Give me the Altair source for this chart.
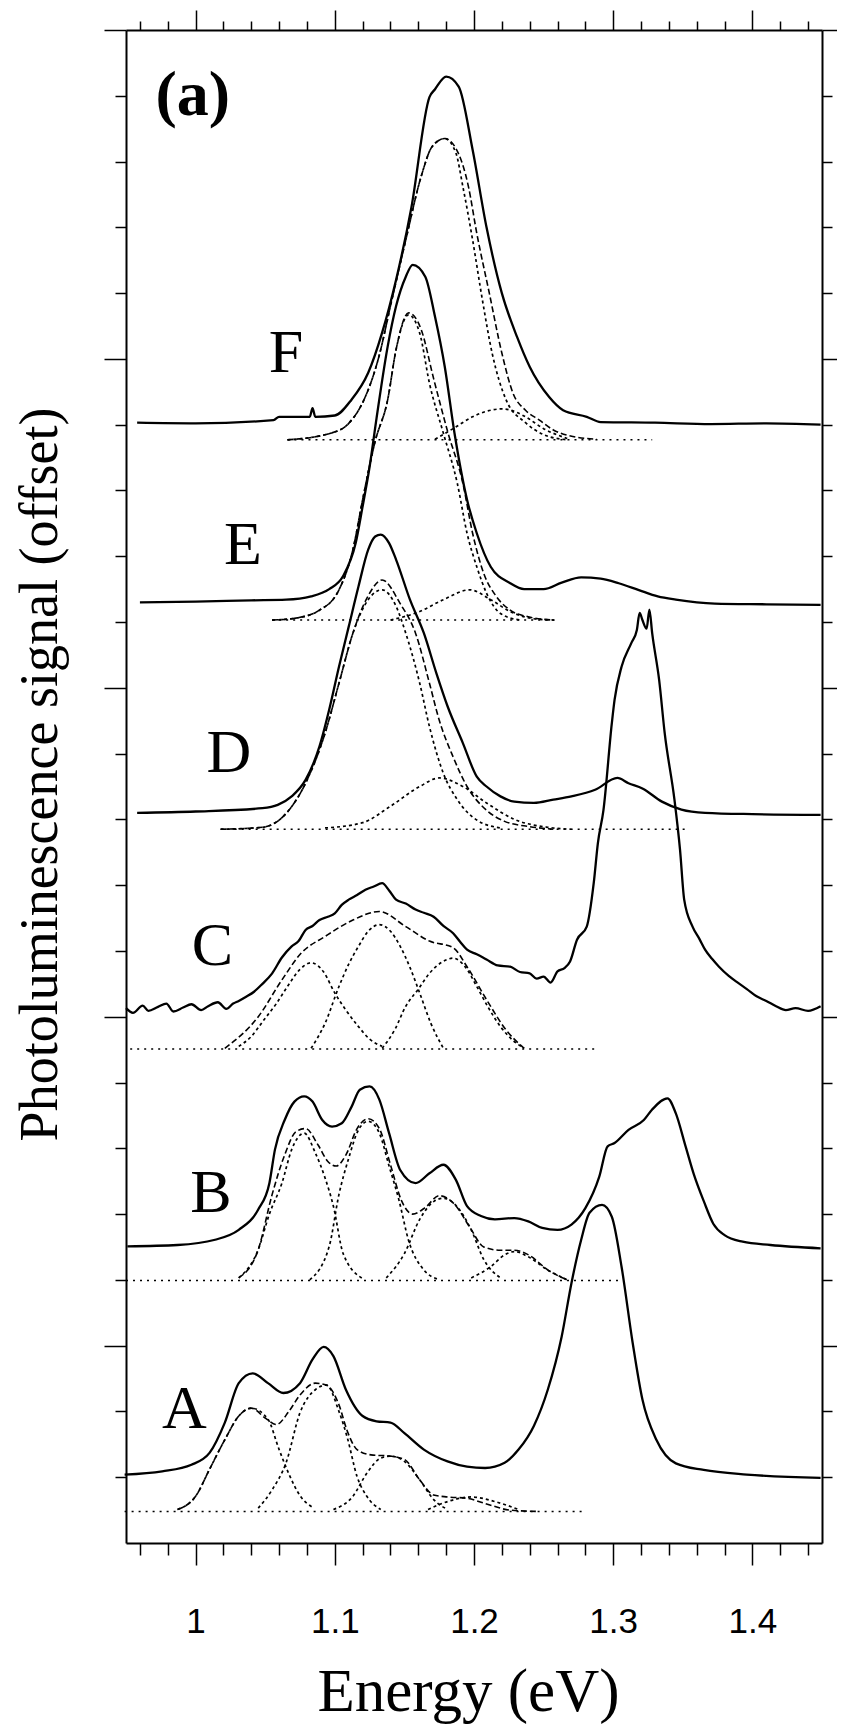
import altair as alt
import pandas as pd

# ---------------- tick values ----------------
x_ticks = [0.96, 0.98, 1.00, 1.02, 1.04, 1.06, 1.08, 1.10, 1.12, 1.14, 1.16, 1.18, 1.20,
           1.22, 1.24, 1.26, 1.28, 1.30, 1.32, 1.34, 1.36, 1.38, 1.40, 1.42, 1.44]
y_ticks = [-2, -1, 0, 1, 2, 3, 4, 5, 6, 7, 8, 9, 10, 11, 12, 13, 14, 15, 16, 17, 18, 19, 20]

# ---------------- spectrum F ----------------
F_E = [0.958, 1.000, 1.056, 1.060, 1.082, 1.084, 1.086, 1.100, 1.112, 1.124, 1.134, 1.144, 1.155,
       1.168, 1.172, 1.180, 1.189, 1.199, 1.209, 1.220, 1.231, 1.240, 1.254, 1.264, 1.281, 1.291,
       1.330, 1.370, 1.410, 1.449]
F_v = [14.03, 14.02, 14.07, 14.12, 14.12, 14.25, 14.12, 14.14, 14.38, 14.79, 15.40, 16.20, 17.30,
       18.98, 19.10, 19.29, 19.14, 18.18, 17.00, 16.00, 15.33, 14.88, 14.42, 14.22, 14.12, 14.04,
       14.03, 14.01, 14.02, 14.00]
Fc1_E = [1.066, 1.097, 1.110, 1.121, 1.131, 1.141, 1.151, 1.162, 1.170, 1.179, 1.187, 1.192, 1.199,
         1.206, 1.213, 1.223, 1.237, 1.250, 1.267]
Fc1_v = [13.77, 13.87, 14.02, 14.38, 14.98, 15.90, 16.81, 17.77, 18.23, 18.35, 18.13, 17.62, 16.81,
         15.90, 15.09, 14.38, 14.03, 13.85, 13.77]
Fc2_E = [1.172, 1.185, 1.199, 1.210, 1.220, 1.228, 1.237, 1.250, 1.267]
Fc2_v = [13.78, 13.94, 14.12, 14.21, 14.24, 14.21, 14.12, 13.94, 13.79]
Fs_E = [1.066, 1.097, 1.110, 1.121, 1.131, 1.141, 1.151, 1.162, 1.170, 1.179, 1.187, 1.196, 1.202,
        1.211, 1.220, 1.228, 1.237, 1.247, 1.257, 1.271, 1.288]
Fs_v = [13.77, 13.87, 14.02, 14.38, 14.98, 15.90, 16.81, 17.77, 18.23, 18.35, 18.20, 17.62, 16.91,
        16.00, 15.09, 14.48, 14.22, 14.07, 13.92, 13.82, 13.78]
Fb_E = [1.066, 1.328]
Fb_v = [13.77, 13.77]

# ---------------- spectrum E ----------------
E_E = [0.960, 1.000, 1.040, 1.065, 1.083, 1.096, 1.106, 1.115, 1.120, 1.125, 1.130, 1.138, 1.144,
       1.151, 1.156, 1.165, 1.172, 1.179, 1.186, 1.195, 1.202, 1.212, 1.226, 1.236, 1.250, 1.263,
       1.277, 1.291, 1.304, 1.318, 1.332, 1.345, 1.373, 1.410, 1.449]
E_v = [11.30, 11.31, 11.33, 11.34, 11.39, 11.50, 11.70, 12.20, 12.76, 13.36, 14.10, 15.19, 15.80,
       16.25, 16.43, 16.25, 15.64, 14.88, 13.87, 12.86, 12.35, 11.84, 11.59, 11.50, 11.50, 11.60,
       11.68, 11.66, 11.59, 11.49, 11.39, 11.34, 11.28, 11.27, 11.26]
Ec1_E = [1.055, 1.072, 1.089, 1.103, 1.113, 1.120, 1.129, 1.138, 1.144, 1.153, 1.161, 1.168, 1.178,
         1.188, 1.195, 1.202, 1.209, 1.219, 1.233]
Ec1_v = [11.03, 11.06, 11.18, 11.49, 12.10, 12.86, 13.75, 14.38, 15.14, 15.67, 15.39, 14.63, 13.87,
         13.11, 12.35, 11.84, 11.44, 11.13, 11.03]
Ec2_E = [1.140, 1.161, 1.178, 1.197, 1.212, 1.226, 1.243, 1.258]
Ec2_v = [11.03, 11.16, 11.34, 11.49, 11.34, 11.16, 11.05, 11.03]
Es_E = [1.055, 1.072, 1.089, 1.103, 1.113, 1.120, 1.129, 1.138, 1.144, 1.153, 1.162, 1.171, 1.181,
        1.192, 1.199, 1.207, 1.216, 1.226, 1.239, 1.257]
Es_v = [11.03, 11.06, 11.18, 11.49, 12.10, 12.86, 13.75, 14.38, 15.14, 15.70, 15.45, 14.70, 13.90,
        13.11, 12.35, 11.74, 11.39, 11.18, 11.08, 11.03]
Eb_E = [1.055, 1.258]
Eb_v = [11.03, 11.03]

# ---------------- spectrum D ----------------
D_E = [0.958, 1.000, 1.048, 1.059, 1.069, 1.079, 1.089, 1.096, 1.103, 1.110, 1.117, 1.124, 1.129,
       1.133, 1.139, 1.144, 1.154, 1.164, 1.173, 1.181, 1.192, 1.202, 1.209, 1.219, 1.229, 1.243,
       1.257, 1.270, 1.287, 1.303, 1.311, 1.321, 1.335, 1.349, 1.366, 1.400, 1.449]
D_v = [8.10, 8.12, 8.17, 8.22, 8.35, 8.60, 9.11, 9.67, 10.32, 10.93, 11.54, 12.10, 12.30, 12.33,
       12.20, 11.95, 11.34, 10.83, 10.22, 9.72, 9.16, 8.65, 8.50, 8.35, 8.27, 8.25, 8.30, 8.35,
       8.45, 8.63, 8.55, 8.47, 8.27, 8.15, 8.10, 8.08, 8.07]
Dc1_E = [1.018, 1.048, 1.065, 1.079, 1.093, 1.103, 1.113, 1.124, 1.134, 1.144, 1.151, 1.161, 1.168,
         1.178, 1.188, 1.202, 1.219]
Dc1_v = [7.85, 7.88, 8.09, 8.55, 9.31, 10.07, 10.83, 11.34, 11.49, 11.24, 10.83, 10.07, 9.41,
         8.70, 8.30, 7.99, 7.87]
Dc2_E = [1.093, 1.120, 1.140, 1.161, 1.175, 1.192, 1.209, 1.229, 1.253, 1.270]
Dc2_v = [7.87, 7.95, 8.20, 8.50, 8.63, 8.50, 8.25, 8.00, 7.88, 7.85]
Ds_E = [1.018, 1.048, 1.065, 1.079, 1.093, 1.103, 1.113, 1.124, 1.134, 1.147, 1.158, 1.168, 1.175,
        1.185, 1.195, 1.209, 1.222, 1.240, 1.257]
Ds_v = [7.85, 7.88, 8.09, 8.55, 9.31, 10.07, 10.83, 11.40, 11.64, 11.28, 10.83, 10.07, 9.51,
        8.95, 8.50, 8.14, 7.97, 7.89, 7.85]
Db_E = [1.018, 1.352]
Db_v = [7.85, 7.85]

# ---------------- spectrum C ----------------
C_E = [0.950, 0.955, 0.962, 0.966, 0.973, 0.979, 0.984, 0.991, 0.997, 1.004, 1.009, 1.016, 1.022,
       1.027, 1.031, 1.036, 1.042, 1.048, 1.055, 1.062, 1.069, 1.074, 1.079, 1.084, 1.089, 1.095,
       1.100, 1.105, 1.110, 1.116, 1.122, 1.128, 1.134, 1.139, 1.144, 1.151, 1.158, 1.164, 1.171,
       1.178, 1.185, 1.190, 1.195, 1.202, 1.209, 1.217, 1.226, 1.233, 1.240, 1.245, 1.250, 1.255,
       1.260, 1.265, 1.269, 1.274, 1.281, 1.286, 1.289, 1.293, 1.299, 1.301, 1.306, 1.313, 1.317,
       1.319, 1.321, 1.324, 1.326, 1.328, 1.333, 1.337, 1.344, 1.348, 1.351, 1.357, 1.362, 1.366,
       1.371, 1.376, 1.383, 1.390, 1.396, 1.403, 1.410, 1.417, 1.424, 1.431, 1.440, 1.449]
C_v = [5.13, 5.06, 5.17, 5.09, 5.15, 5.20, 5.08, 5.14, 5.19, 5.10, 5.16, 5.22, 5.12, 5.20, 5.24,
       5.30, 5.38, 5.50, 5.66, 5.90, 6.07, 6.15, 6.32, 6.38, 6.47, 6.52, 6.57, 6.70, 6.78, 6.85,
       6.93, 6.98, 7.03, 6.92, 6.78, 6.72, 6.63, 6.58, 6.52, 6.38, 6.27, 6.14, 6.02, 5.95, 5.87,
       5.78, 5.76, 5.68, 5.66, 5.58, 5.61, 5.52, 5.69, 5.74, 5.84, 6.17, 6.37, 7.03, 7.64, 8.14,
       9.46, 9.82, 10.32, 10.68, 10.88, 11.14, 11.03, 10.90, 11.19, 10.83, 10.12, 9.31, 8.30, 7.54,
       6.78, 6.37, 6.18, 6.02, 5.88, 5.76, 5.62, 5.51, 5.42, 5.31, 5.24, 5.16, 5.10, 5.13, 5.09,
       5.16]
Cc1_E = [1.031, 1.040, 1.049, 1.058, 1.066, 1.075, 1.083, 1.092, 1.100, 1.108, 1.117, 1.125, 1.134]
Cc1_v = [4.55, 4.70, 4.95, 5.20, 5.46, 5.72, 5.82, 5.68, 5.36, 5.10, 4.85, 4.66, 4.55]
Cc2_E = [1.083, 1.093, 1.103, 1.110, 1.117, 1.124, 1.132, 1.140, 1.147, 1.154, 1.161, 1.169, 1.178]
Cc2_v = [4.52, 4.90, 5.46, 5.80, 6.07, 6.30, 6.40, 6.30, 6.07, 5.75, 5.36, 4.90, 4.52]
Cc3_E = [1.134, 1.143, 1.151, 1.160, 1.168, 1.177, 1.185, 1.194, 1.202, 1.210, 1.219, 1.228, 1.236]
Cc3_v = [4.52, 4.80, 5.16, 5.42, 5.66, 5.83, 5.89, 5.75, 5.46, 5.15, 4.85, 4.64, 4.52]
Cs_E = [1.021, 1.045, 1.062, 1.076, 1.093, 1.113, 1.132, 1.151, 1.168, 1.185, 1.195, 1.209, 1.223, 1.236]
Cs_v = [4.52, 5.00, 5.56, 5.97, 6.22, 6.47, 6.60, 6.37, 6.15, 6.05, 5.76, 5.26, 4.80, 4.52]
Cb_E = [0.953, 1.287]
Cb_v = [4.51, 4.51]

# ---------------- spectrum B ----------------
B_E = [0.951, 0.987, 1.014, 1.031, 1.045, 1.053, 1.057, 1.064, 1.071, 1.078, 1.084, 1.091, 1.098,
       1.105, 1.112, 1.118, 1.125, 1.132, 1.139, 1.147, 1.158, 1.168, 1.178, 1.187, 1.195, 1.205,
       1.215, 1.229, 1.239, 1.249, 1.260, 1.270, 1.280, 1.290, 1.296, 1.301, 1.311, 1.322, 1.328,
       1.339, 1.345, 1.352, 1.358, 1.365, 1.372, 1.380, 1.393, 1.413, 1.449]
B_v = [1.51, 1.53, 1.61, 1.76, 2.07, 2.47, 2.98, 3.43, 3.71, 3.79, 3.71, 3.43, 3.33, 3.38, 3.63,
       3.89, 3.94, 3.74, 3.23, 2.67, 2.47, 2.62, 2.75, 2.52, 2.12, 1.97, 1.92, 1.94, 1.89, 1.79,
       1.76, 1.84, 2.09, 2.57, 3.03, 3.08, 3.28, 3.43, 3.59, 3.76, 3.53, 3.03, 2.60, 2.20, 1.85,
       1.68, 1.58, 1.53, 1.48]
Bc1_E = [1.031, 1.045, 1.053, 1.062, 1.069, 1.078, 1.086, 1.093, 1.099, 1.106, 1.120]
Bc1_v = [1.03, 1.46, 2.00, 2.47, 2.98, 3.23, 2.93, 2.55, 2.12, 1.40, 1.02]
Bc2_E = [1.082, 1.096, 1.103, 1.110, 1.117, 1.124, 1.132, 1.139, 1.146, 1.153, 1.164, 1.174]
Bc2_v = [1.00, 1.51, 2.30, 2.85, 3.28, 3.41, 3.23, 2.73, 2.22, 1.60, 1.15, 1.01]
Bc3_E = [1.137, 1.150, 1.161, 1.171, 1.178, 1.188, 1.198, 1.207, 1.219]
Bc3_v = [1.03, 1.40, 1.92, 2.19, 2.24, 2.11, 1.76, 1.31, 1.03]
Bc4_E = [1.198, 1.212, 1.222, 1.229, 1.239, 1.253, 1.267]
Bc4_v = [1.03, 1.20, 1.38, 1.43, 1.35, 1.15, 1.00]
Bs_E = [1.031, 1.045, 1.055, 1.064, 1.072, 1.079, 1.088, 1.095, 1.101, 1.108, 1.116, 1.124, 1.132,
        1.140, 1.148, 1.156, 1.165, 1.175, 1.186, 1.197, 1.207, 1.219, 1.229, 1.240, 1.253, 1.267]
Bs_v = [1.03, 1.46, 2.30, 2.90, 3.25, 3.30, 3.05, 2.80, 2.73, 2.90, 3.30, 3.45, 3.30, 2.75, 2.20,
        2.00, 2.10, 2.28, 2.15, 1.80, 1.50, 1.45, 1.45, 1.37, 1.15, 1.00]
Bb_E = [0.950, 1.307]
Bb_v = [0.99, 0.99]

# ---------------- spectrum A ----------------
A_E = [0.949, 0.976, 0.997, 1.010, 1.021, 1.031, 1.041, 1.052, 1.063, 1.075, 1.084, 1.092, 1.099,
       1.108, 1.120, 1.130, 1.140, 1.150, 1.164, 1.181, 1.195, 1.208, 1.222, 1.232, 1.243, 1.253,
       1.263, 1.270, 1.277, 1.283, 1.292, 1.299, 1.306, 1.314, 1.321, 1.331, 1.345, 1.365, 1.396,
       1.449]
A_v = [-1.96, -1.91, -1.81, -1.63, -1.17, -0.57, -0.42, -0.57, -0.72, -0.57, -0.21, -0.02, -0.16,
       -0.67, -1.07, -1.15, -1.17, -1.33, -1.58, -1.76, -1.84, -1.86, -1.78, -1.58, -1.22, -0.67,
       0.14, 0.95, 1.61, 2.02, 2.14, 1.96, 1.20, 0.04, -0.82, -1.43, -1.79, -1.89, -1.96, -2.01]
Ac1_E = [0.987, 1.000, 1.010, 1.021, 1.031, 1.040, 1.052, 1.060, 1.067, 1.075, 1.085]
Ac1_v = [-2.49, -2.29, -1.88, -1.43, -1.07, -0.95, -1.12, -1.58, -1.95, -2.28, -2.47]
Ac2_E = [1.045, 1.055, 1.065, 1.075, 1.086, 1.094, 1.103, 1.109, 1.116, 1.123, 1.133]
Ac2_v = [-2.47, -2.19, -1.78, -1.02, -0.67, -0.60, -1.00, -1.40, -1.99, -2.29, -2.49]
Ac3_E = [1.099, 1.113, 1.123, 1.133, 1.140, 1.150, 1.161, 1.171, 1.181]
Ac3_v = [-2.49, -2.29, -1.94, -1.71, -1.68, -1.76, -2.04, -2.34, -2.49]
Ac4_E = [1.167, 1.181, 1.198, 1.215, 1.232]
Ac4_v = [-2.49, -2.37, -2.30, -2.37, -2.49]
As_E = [0.987, 1.000, 1.010, 1.021, 1.031, 1.040, 1.050, 1.058, 1.067, 1.075, 1.086, 1.094, 1.103,
        1.109, 1.116, 1.126, 1.140, 1.150, 1.161, 1.171, 1.181, 1.195, 1.208, 1.226, 1.245]
As_v = [-2.49, -2.29, -1.88, -1.43, -1.07, -0.95, -1.10, -1.20, -1.00, -0.75, -0.57, -0.60, -0.90,
        -1.30, -1.58, -1.66, -1.68, -1.73, -2.04, -2.27, -2.30, -2.32, -2.40, -2.50, -2.52]
Ab_E = [0.949, 1.278]
Ab_v = [-2.52, -2.52]

# ---------------- labels ----------------
label_text = ["F", "E", "D", "C", "B", "A"]
label_E = [1.065, 1.034, 1.024, 1.012, 1.011, 0.992]
label_v = [15.09, 12.17, 9.01, 6.07, 2.32, -0.97]
tag_text = ["(a)"]
tag_E = [0.998]
tag_v = [19.0]

curves = {
    "solid": [("F", F_E, F_v), ("E", E_E, E_v), ("D", D_E, D_v), ("C", C_E, C_v),
              ("B", B_E, B_v), ("A", A_E, A_v)],
    "comp": [("Fc1", Fc1_E, Fc1_v), ("Fc2", Fc2_E, Fc2_v), ("Ec1", Ec1_E, Ec1_v),
             ("Ec2", Ec2_E, Ec2_v), ("Dc1", Dc1_E, Dc1_v), ("Dc2", Dc2_E, Dc2_v),
             ("Cc1", Cc1_E, Cc1_v), ("Cc2", Cc2_E, Cc2_v), ("Cc3", Cc3_E, Cc3_v),
             ("Bc1", Bc1_E, Bc1_v), ("Bc2", Bc2_E, Bc2_v), ("Bc3", Bc3_E, Bc3_v),
             ("Bc4", Bc4_E, Bc4_v), ("Ac1", Ac1_E, Ac1_v), ("Ac2", Ac2_E, Ac2_v),
             ("Ac3", Ac3_E, Ac3_v), ("Ac4", Ac4_E, Ac4_v)],
    "sum": [("Fs", Fs_E, Fs_v), ("Es", Es_E, Es_v), ("Ds", Ds_E, Ds_v), ("Cs", Cs_E, Cs_v),
            ("Bs", Bs_E, Bs_v), ("As", As_E, As_v)],
    "base": [("Fb", Fb_E, Fb_v), ("Eb", Eb_E, Eb_v), ("Db", Db_E, Db_v), ("Cb", Cb_E, Cb_v),
             ("Bb", Bb_E, Bb_v), ("Ab", Ab_E, Ab_v)],
}


def frame(kind):
    rows = []
    for name, xs, ys in curves[kind]:
        for i, (x, y) in enumerate(zip(xs, ys)):
            rows.append({"curve": name, "E": x, "S": y, "i": i})
    return pd.DataFrame(rows)


xscale = alt.Scale(domain=[0.95, 1.45], nice=False, zero=False)
yscale = alt.Scale(domain=[-3, 20], nice=False, zero=False)

XMAJ = "abs(datum.value*10 - round(datum.value*10)) < 0.001"
YMAJ = "datum.value % 5 == 0"

common_axis = dict(grid=False, domainColor="black", domainWidth=2, tickColor="black",
                   tickWidth=1.5)

x_bottom = alt.Axis(orient="bottom", values=x_ticks,
                    tickSize={"condition": {"test": XMAJ, "value": 22}, "value": 12},
                    labelExpr=XMAJ + " ? format(datum.value, '.2~g') : ''",
                    labelFont="Liberation Sans", labelFontSize=35, labelColor="black",
                    labelBaseline="alphabetic", labelPadding=67, labelOverlap=False,
                    labelFlush=False,
                    title="Energy (eV)", titleFont="Liberation Serif", titleFontSize=61,
                    titleFontWeight="normal", titleColor="black", titleX=342, titleY=167,
                    titleAlign="center", titleBaseline="alphabetic", **common_axis)
y_left = alt.Axis(orient="left", values=y_ticks, labels=False,
                  tickSize={"condition": {"test": YMAJ, "value": 22}, "value": 11},
                  title="Photoluminescence signal (offset)", titleFont="Liberation Serif",
                  titleFontSize=54, titleFontWeight="normal", titleColor="black",
                  titleX=-70, titleY=744, titleAngle=270, titleAlign="center",
                  titleBaseline="alphabetic", **common_axis)
x_top = alt.Axis(orient="top", values=x_ticks, labels=False, title="",
                 tickSize={"condition": {"test": XMAJ, "value": 20}, "value": 9},
                 **common_axis)
y_right = alt.Axis(orient="right", values=y_ticks, labels=False, title="",
                   tickSize={"condition": {"test": YMAJ, "value": 20}, "value": 10},
                   **common_axis)


def lines(kind, dash, width, xaxis, yaxis):
    if dash:
        mark = alt.Chart(frame(kind)).mark_line(color="black", strokeWidth=width,
                                                strokeDash=dash, interpolate="monotone")
    else:
        mark = alt.Chart(frame(kind)).mark_line(color="black", strokeWidth=width,
                                                interpolate="monotone")
    return mark.encode(
        x=alt.X("E:Q", scale=xscale, axis=xaxis),
        y=alt.Y("S:Q", scale=yscale, axis=yaxis),
        detail="curve:N",
        order="i:Q",
    )


solid = lines("solid", None, 2.3, x_bottom, y_left)
comp = lines("comp", [3, 3], 1.7, x_top, y_right)
summ = lines("sum", [6, 3], 1.6, None, None)
base = lines("base", [2, 5], 1.5, None, None)

letters = alt.Chart(pd.DataFrame({"t": label_text, "E": label_E, "S": label_v})).mark_text(
    font="Liberation Serif", fontSize=62, align="center", baseline="middle", color="black"
).encode(
    x=alt.X("E:Q", scale=xscale, axis=None),
    y=alt.Y("S:Q", scale=yscale, axis=None),
    text="t:N",
)
tag = alt.Chart(pd.DataFrame({"t": tag_text, "E": tag_E, "S": tag_v})).mark_text(
    font="Liberation Serif", fontSize=64, fontWeight="bold", align="center",
    baseline="middle", color="black"
).encode(
    x=alt.X("E:Q", scale=xscale, axis=None),
    y=alt.Y("S:Q", scale=yscale, axis=None),
    text="t:N",
)

chart = alt.layer(solid, comp, summ, base, letters, tag).resolve_axis(
    x="independent", y="independent"
).properties(
    width=696, height=1513,
    autosize=alt.AutoSizeParams(type="none"),
    padding={"left": 118, "top": 22, "right": 15, "bottom": 186},
    background="white",
).configure_view(stroke=None)

chart.save("out.html", embed_options={"renderer": "svg", "actions": False})
